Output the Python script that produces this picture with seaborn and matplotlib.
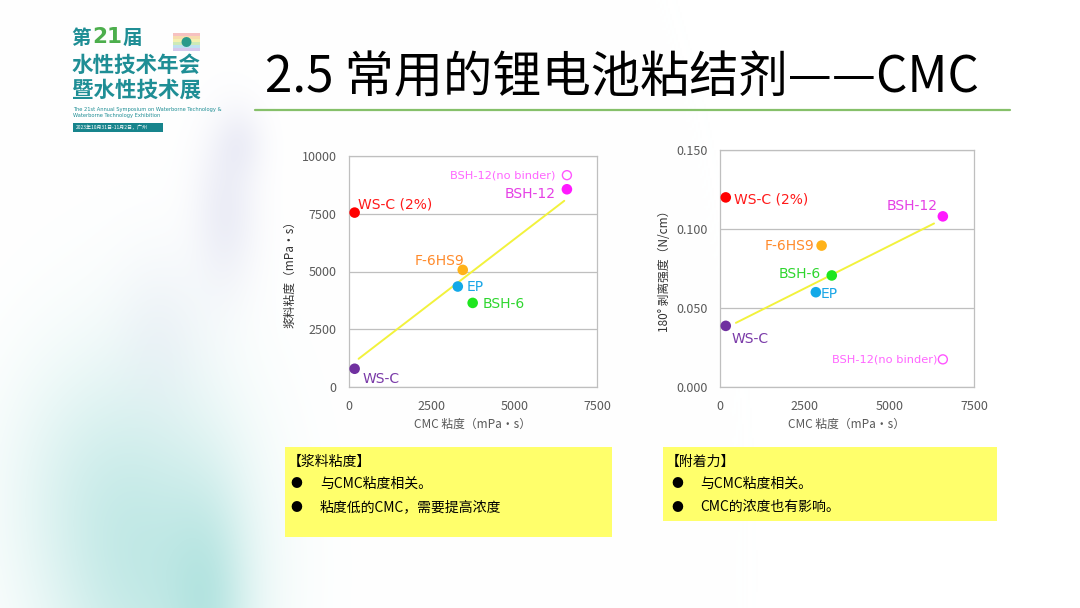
"""
plot.py
Slide: 2.5 常用的锂电池粘结剂——CMC, two scatter charts with trend lines.
"""

import matplotlib
matplotlib.use("Agg")  # headless rendering
import matplotlib.pyplot as plt
from matplotlib.patches import Rectangle
import seaborn as sns
import numpy as np
import pandas as pd

# ---- data ----
samples = ["WS-C (2%)", "BSH-12", "F-6HS9", "EP", "BSH-6", "WS-C"]

# left chart: CMC viscosity vs slurry viscosity
cmc_visc_left = [170, 6590, 3440, 3290, 3740, 170]
slurry_visc = [7550, 8560, 5070, 4350, 3640, 790]
nobinder_left_x = [6590]
nobinder_left_y = [9170]
trend_left_x = [290, 6510]
trend_left_y = [1220, 8060]

# right chart: CMC viscosity vs 180° peel strength
cmc_visc_right = [170, 6580, 3000, 2830, 3300, 170]
peel_strength = [0.120, 0.108, 0.0895, 0.0600, 0.0706, 0.0387]
nobinder_right_x = [6580]
nobinder_right_y = [0.0175]
trend_right_x = [470, 6320]
trend_right_y = [0.0406, 0.1035]

x_ticks = [0, 2500, 5000, 7500]
left_y_ticks = [0, 2500, 5000, 7500, 10000]
right_y_ticks = [0.0, 0.05, 0.10, 0.15]

nobinder_label = "BSH-12(no binder)"
box_left_lines = ["【浆料粘度】", "与CMC粘度相关。", "粘度低的CMC，需要提高浓度"]
box_right_lines = ["【附着力】", "与CMC粘度相关。", "CMC的浓度也有影响。"]

# ---- styles ----
marker_colors = {"WS-C (2%)": "#ff0000", "BSH-12": "#ff19ff", "F-6HS9": "#ffb21a",
                 "EP": "#12a9e8", "BSH-6": "#1ee61e", "WS-C": "#7030a0"}
label_colors = {"WS-C (2%)": "#ff1a1a", "BSH-12": "#e53fe5", "F-6HS9": "#ff8a2a",
                "EP": "#1aa6e6", "BSH-6": "#2ed62e", "WS-C": "#7a3aa8"}
# label offsets in points (dx, dy, ha)
left_offsets = {"WS-C (2%)": (2.5, 5.5, "left"), "BSH-12": (-8.4, -3.6, "right"),
                "F-6HS9": (1.0, 6.7, "right"), "EP": (6.5, 0, "left"),
                "BSH-6": (7.2, -0.7, "left"), "WS-C": (6.0, -7.2, "left")}
right_offsets = {"WS-C (2%)": (6.2, -1.4, "left"), "BSH-12": (-3.8, 7.7, "right"),
                 "F-6HS9": (-5.5, -0.5, "right"), "EP": (3.8, -1.0, "left"),
                 "BSH-6": (-7.9, 1.0, "right"), "WS-C": (4.3, -9.6, "left")}
nobinder_dx = {"left": -8.4, "right": -3.8}

W, H = 1080, 608
CJK = ["Noto Sans CJK SC", "DejaVu Sans"]
LATIN = ["DejaVu Sans"]
TEAL = "#1f8e95"

sns.set_theme(style="white")
plt.rcParams["font.family"] = CJK
plt.rcParams["axes.unicode_minus"] = False


def fx(x):
    return x / W


def fy(y):
    return 1 - y / H


def draw_background(fig):
    bg = fig.add_axes([0, 0, 1, 1], zorder=-10)
    yy, xx = np.mgrid[0:H:2, 0:W:2].astype(float)

    def blob(cx, cy, sx, sy, amp):
        return amp * np.exp(-(((xx - cx) / sx) ** 2 + ((yy - cy) / sy) ** 2))

    teal = (blob(150, 570, 100, 190, 0.5) + blob(210, 610, 40, 120, 0.3)
            + blob(70, 480, 80, 130, 0.15))
    lav = (blob(225, 210, 32, 80, 0.32) + blob(160, 330, 45, 80, 0.15)
           + blob(240, 140, 25, 35, 0.2))
    teal = np.clip(teal, 0, 0.7)
    lav = np.clip(lav, 0, 0.5)
    img = np.ones(xx.shape + (3,))
    teal_rgb = np.array([0.56, 0.84, 0.82])
    lav_rgb = np.array([0.78, 0.79, 0.90])
    for c in range(3):
        img[..., c] = img[..., c] * (1 - teal) + teal_rgb[c] * teal
        img[..., c] = img[..., c] * (1 - lav) + lav_rgb[c] * lav
    bg.imshow(img, extent=[0, W, H, 0], aspect="auto", interpolation="bilinear")
    bg.set_xlim(0, W)
    bg.set_ylim(H, 0)
    bg.axis("off")


def draw_logo(fig):
    fig.text(fx(71), fy(38), "第", color=TEAL, fontsize=14, fontweight="bold", va="center")
    fig.text(fx(92), fy(37), "21", color="#4cae4c", fontsize=15.5, fontweight="bold",
             va="center", family=LATIN)
    fig.text(fx(123), fy(38), "届", color=TEAL, fontsize=14, fontweight="bold", va="center")
    fig.text(fx(72), fy(65), "水性技术年会", color=TEAL, fontsize=15.5, fontweight="bold", va="center")
    fig.text(fx(72), fy(90), "暨水性技术展", color=TEAL, fontsize=15.5, fontweight="bold", va="center")
    fig.text(fx(73), fy(109), "The 21st Annual Symposium on Waterborne Technology &",
             color=TEAL, fontsize=3.7, va="center", family=LATIN)
    fig.text(fx(73), fy(116), "Waterborne Technology Exhibition",
             color=TEAL, fontsize=3.7, va="center", family=LATIN)
    fig.patches.append(Rectangle((fx(73), fy(132)), fx(90), 9 / H, transform=fig.transFigure,
                                 facecolor="#17848c", edgecolor="none"))
    fig.text(fx(76), fy(127.5), "2023年10月31日-11月2日，广州", color="white",
             fontsize=3.6, va="center")
    # rainbow strip icon
    strip = ["#f6c1c1", "#f7dcae", "#f3f0b0", "#cdeab8", "#bfe0f0", "#d6c8ec"]
    for i, c in enumerate(strip):
        fig.patches.append(Rectangle((fx(173), fy(33 + 3 * (i + 1))), fx(27), 3 / H,
                                     transform=fig.transFigure, facecolor=c, edgecolor="none"))
    fig.text(fx(186.5), fy(43), "●", color="#2a9a8a", fontsize=8, ha="center", va="center")


def style_axes(ax, yticks, yfmt):
    ax.set_xlim(0, 7500)
    ax.set_ylim(yticks[0], yticks[-1])
    ax.set_xticks(x_ticks)
    ax.set_yticks(yticks)
    ax.set_yticklabels([yfmt.format(v) for v in yticks])
    ax.tick_params(length=0, labelsize=9, colors="#595959", pad=9)
    ax.yaxis.grid(True, color="#bfbfbf", linewidth=0.9)
    ax.xaxis.grid(False)
    for sp in ax.spines.values():
        sp.set_color("#bfbfbf")
        sp.set_linewidth(0.9)
    ax.set_facecolor("white")


def draw_chart(ax, side, xs, ys, nb_x, nb_y, tx, ty, offsets, yticks, yfmt, ylabel):
    df = pd.DataFrame({"sample": samples, "x": xs, "y": ys})
    sns.lineplot(x=tx, y=ty, color="#f2f23c", linewidth=1.4, ax=ax, zorder=2)
    sns.scatterplot(data=df, x="x", y="y", hue="sample", palette=marker_colors, s=58,
                    edgecolor="none", legend=False, ax=ax, zorder=3)
    ax.scatter(nb_x, nb_y, s=42, facecolors="none", edgecolors="#ff55ff", linewidths=1.0, zorder=3)
    for _, row in df.iterrows():
        dx, dy, ha = offsets[row["sample"]]
        ax.annotate(row["sample"], (row["x"], row["y"]), xytext=(dx, dy),
                    textcoords="offset points", ha=ha, va="center", family=LATIN,
                    fontsize=10, color=label_colors[row["sample"]])
    ax.annotate(nobinder_label, (nb_x[0], nb_y[0]), xytext=(nobinder_dx[side], 0),
                textcoords="offset points", ha="right", va="center", family=LATIN,
                fontsize=8.2, color="#ff66ff")
    style_axes(ax, yticks, yfmt)
    ax.set_xlabel("CMC 粘度（mPa・s）", fontsize=8.5, color="#595959", labelpad=4)
    ax.set_ylabel(ylabel, fontsize=8.5, color="#333333", labelpad=4)


def main():
    fig = plt.figure(figsize=(W / 100, H / 100), dpi=100)
    draw_background(fig)
    draw_logo(fig)

    # title and rule
    fig.text(fx(265), fy(78), "2.5 常用的锂电池粘结剂——CMC", fontsize=35.5, color="black",
             va="center", ha="left")
    fig.add_artist(plt.Line2D([fx(255), fx(1010)], [fy(110), fy(110)],
                              color="#86c06a", linewidth=1.6))

    ax1 = fig.add_axes([fx(349), fy(387), fx(597 - 349), (387 - 156) / H])
    ax2 = fig.add_axes([fx(720), fy(387), fx(974 - 720), (387 - 150) / H])

    draw_chart(ax1, "left", cmc_visc_left, slurry_visc, nobinder_left_x, nobinder_left_y,
               trend_left_x, trend_left_y, left_offsets, left_y_ticks, "{:.0f}",
               "浆料粘度（mPa・s）")
    draw_chart(ax2, "right", cmc_visc_right, peel_strength, nobinder_right_x, nobinder_right_y,
               trend_right_x, trend_right_y, right_offsets, right_y_ticks, "{:.3f}",
               "180° 剥离强度（N/cm）")

    # yellow note boxes
    for (x0, y0, x1, y1), lines, bx, tx in [((285, 447, 612, 537), box_left_lines, 296, 320),
                                             ((663, 447, 997, 521), box_right_lines, 677, 700)]:
        fig.patches.append(Rectangle((fx(x0), fy(y1)), fx(x1 - x0), (y1 - y0) / H,
                                     transform=fig.transFigure, facecolor="#ffff6b",
                                     edgecolor="none", zorder=1))
        fig.text(fx(x0 + 3), fy(y0 + 15), lines[0], fontsize=10, color="black", va="center")
        for i, line in enumerate(lines[1:]):
            yy = y0 + 37 + 23 * i
            fig.text(fx(bx), fy(yy), "●", fontsize=8.5, color="black", va="center", ha="center")
            fig.text(fx(tx), fy(yy), line, fontsize=10, color="black", va="center")

    fig.savefig("out.png", dpi=100)
    plt.close(fig)


if __name__ == "__main__":
    main()
